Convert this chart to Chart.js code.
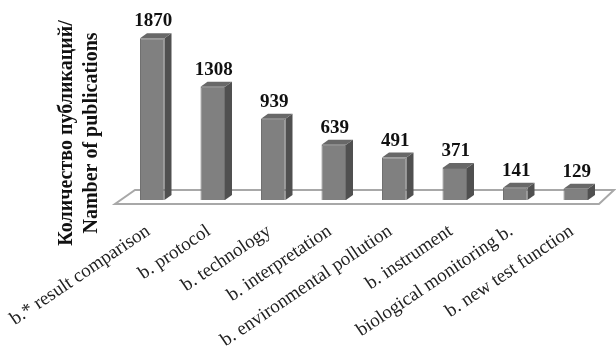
<!DOCTYPE html>
<html>
<head>
<meta charset="utf-8">
<script src="https://cdn.jsdelivr.net/npm/chart.js@4/dist/chart.umd.min.js"></script>
<style>
  html, body { margin: 0; padding: 0; background: #ffffff; }
  #wrap { width: 616px; height: 349px; }
</style>
</head>
<body>
<div id="wrap"><canvas id="chart" width="616" height="349"></canvas></div>
<script>
// Publication counts per search phrase ("b." = biomonitoring)
const categories = [
  'b.* result comparison',
  'b. protocol',
  'b. technology',
  'b. interpretation',
  'b. environmental pollution',
  'b. instrument',
  'biological monitoring b.',
  'b. new test function'
];
const publications = [1870, 1308, 939, 639, 491, 371, 141, 129];
const axisTitleLines = ['Количество публикаций/', 'Namber of publications'];

const SERIF = "'Liberation Serif', 'Times New Roman', serif";
const DEPTH_X = 7;   // horizontal shift of the bar's back faces
const DEPTH_Y = 5;   // vertical shift of the bar's back faces

// Pseudo-3D: floor under the bars, side/top faces, value labels, y title
const bars3d = {
  id: 'bars3d',
  beforeDatasetsDraw(chart) {
    const { ctx, chartArea } = chart;
    const base = chart.scales.y.getPixelForValue(0);
    const l = chartArea.left, r = chartArea.right;
    ctx.save();
    ctx.beginPath();
    ctx.moveTo(l - 7, base + 4);
    ctx.lineTo(r - 7, base + 4);
    ctx.lineTo(r + 8, base - 10);
    ctx.lineTo(l + 13, base - 10);
    ctx.closePath();
    ctx.fillStyle = '#ffffff';
    ctx.fill();
    ctx.strokeStyle = '#a8a8a8';
    ctx.lineWidth = 2;
    ctx.stroke();
    ctx.restore();
  },
  afterDatasetsDraw(chart) {
    const { ctx } = chart;
    const meta = chart.getDatasetMeta(0);
    const values = chart.data.datasets[0].data;
    ctx.save();
    meta.data.forEach((bar, i) => {
      const { x, y, base, width } = bar.getProps(['x', 'y', 'base', 'width'], true);
      const l = x - width / 2, r = x + width / 2;
      // side face
      ctx.beginPath();
      ctx.moveTo(r, y);
      ctx.lineTo(r + DEPTH_X, y - DEPTH_Y);
      ctx.lineTo(r + DEPTH_X, base - DEPTH_Y);
      ctx.lineTo(r, base);
      ctx.closePath();
      ctx.fillStyle = '#505050';
      ctx.fill();
      // top face
      ctx.beginPath();
      ctx.moveTo(l, y);
      ctx.lineTo(l + DEPTH_X, y - DEPTH_Y);
      ctx.lineTo(r + DEPTH_X, y - DEPTH_Y);
      ctx.lineTo(r, y);
      ctx.closePath();
      ctx.fillStyle = '#686868';
      ctx.fill();
      // value label
      ctx.fillStyle = '#111111';
      ctx.font = 'bold 19px ' + SERIF;
      ctx.textAlign = 'center';
      ctx.textBaseline = 'alphabetic';
      ctx.fillText(String(values[i]), x + 1, y - 12);
    });
    ctx.restore();
  },
  afterDraw(chart) {
    const { ctx } = chart;
    ctx.save();
    ctx.fillStyle = '#111111';
    ctx.font = 'bold 20px ' + SERIF;
    ctx.textAlign = 'center';
    ctx.textBaseline = 'alphabetic';
    const baselines = [72, 97];
    axisTitleLines.forEach((line, k) => {
      ctx.save();
      ctx.translate(baselines[k], 133);
      ctx.rotate(-Math.PI / 2);
      ctx.fillText(line, 0, 0);
      ctx.restore();
    });
    ctx.restore();
  }
};

new Chart(document.getElementById('chart'), {
  type: 'bar',
  data: {
    labels: categories,
    datasets: [{
      data: publications,
      backgroundColor: '#808080',
      borderColor: '#707070',
      borderWidth: 1,
      barPercentage: 0.405,
      categoryPercentage: 1
    }]
  },
  options: {
    responsive: false,
    devicePixelRatio: 1,
    animation: false,
    layout: { padding: { left: 122, right: 10, top: 27, bottom: 0 } },
    plugins: {
      legend: { display: false },
      tooltip: { enabled: false }
    },
    scales: {
      x: {
        grid: { display: false, drawTicks: false },
        border: { display: false },
        ticks: {
          autoSkip: false,
          minRotation: 34,
          maxRotation: 34,
          padding: 20,
          labelOffset: -4,
          color: '#222222',
          font: { family: SERIF, size: 19 }
        },
        afterFit(scale) {
          // fixed band under the plot; long rotated labels may run into the left margin
          scale.height = 149;
          scale.paddingLeft = 0;
          scale.paddingRight = 0;
        }
      },
      y: {
        display: false,
        min: 0,
        max: 2000
      }
    }
  },
  plugins: [bars3d]
});
</script>
</body>
</html>
